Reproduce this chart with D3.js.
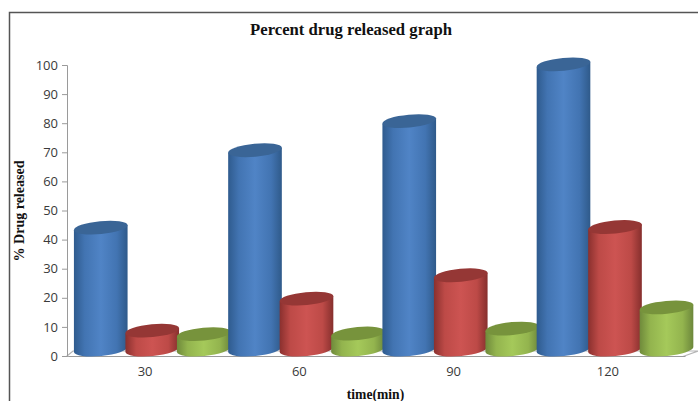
<!DOCTYPE html>
<html>
<head>
<meta charset="utf-8">
<script src="https://cdn.jsdelivr.net/npm/d3@7"></script>
<style>
  html, body { margin: 0; padding: 0; background: #fff; }
  svg { display: block; }
  .tick text { font-family: "Open Sans", sans-serif; font-size: 13px; fill: #3a3a3a; }
  .lbl { font-family: "Liberation Serif", serif; font-weight: bold; fill: #111; }
</style>
</head>
<body>
<div class="chart"></div>
<script>
const categories = ["30", "60", "90", "120"];
const seriesNames = ["blue", "red", "green"];
const blueValues = [42.4, 69, 79, 98.5];
const redValues = [7, 18, 26, 42.6];
const greenValues = [5.8, 6, 7.7, 15];
const yTicks = [0, 10, 20, 30, 40, 50, 60, 70, 80, 90, 100];

const w = 698, h = 401;
const sideColors = {
  blue: ["#2f5b8e", "#4274b2", "#5084c6", "#4274b2", "#2f5a8a"],
  red: ["#8a302e", "#bd4a47", "#cd5452", "#bd4a47", "#862f2d"],
  green: ["#6f8a3b", "#93b44e", "#a5c95a", "#93b44e", "#6c873b"]
};
const topColors = { blue: "#3a6596", red: "#953735", green: "#77933c" };

const xScale = d3.scaleBand().domain(categories).range([68, 685]);
const xInner = d3.scaleBand().domain(seriesNames).range([7, 161.5]);
const yScale = d3.scaleLinear().domain([0, 100]).range([356, 65]);

const body = d3.select(".chart").append("svg").attr("width", w).attr("height", h);

// gradients for the cylinder sides
const defs = body.append("defs");
seriesNames.forEach(function(s) {
  const g = defs.append("linearGradient").attr("id", "side-" + s);
  sideColors[s].forEach(function(c, i) {
    g.append("stop").attr("offset", [0, 0.2, 0.5, 0.8, 1][i]).attr("stop-color", c);
  });
});

// frame (top and left only, the picture is cropped)
body.append("path").attr("d", "M9.5,401V12.5H698").attr("fill", "none").attr("stroke", "#555").attr("stroke-width", 1.5);

// floor of the 3d plot
body.append("path")
  .attr("d", "M67,356L73,351H698L683,356.5H67Z")
  .attr("fill", "#fff").attr("stroke", "#b5b5b5").attr("stroke-width", 1.2);

const yAxis = d3.axisLeft(yScale).tickValues(yTicks).tickSize(5).tickPadding(4);
const xAxis = d3.axisBottom(xScale).tickSize(0).tickPadding(11);

const gy = body.append("g").attr("transform", "translate(67,0)").call(yAxis);
const gx = body.append("g").attr("transform", "translate(0,356)").call(xAxis);
gy.selectAll("line, path").attr("stroke", "#9a9a9a");
gx.select(".domain").attr("stroke", "#9a9a9a");

// cylinders
const rows = [];
categories.forEach(function(c, i) {
  rows.push({ cat: c, s: "blue", v: blueValues[i] });
  rows.push({ cat: c, s: "red", v: redValues[i] });
  rows.push({ cat: c, s: "green", v: greenValues[i] });
});

const tiltDeg = -5.5;
const tilt = tiltDeg * Math.PI / 180;
const ry = 6.5;

const bars = body.selectAll(".bar").data(rows).enter().append("g").attr("class", "bar");

bars.each(function(d) {
  const rx = xInner.bandwidth() / 2 + 1.2;
  const cx = xScale(d.cat) + xInner(d.s) + xInner.bandwidth() / 2;
  const yTop = yScale(d.v) - 5;
  const yBase = yScale(0) - 6.5;
  const dx = rx * Math.cos(tilt), dy = rx * Math.sin(tilt);
  const g = d3.select(this);
  g.append("path")
    .attr("d", "M" + (cx - dx) + "," + (yTop - dy) +
      "L" + (cx - dx) + "," + (yBase - dy) +
      "A" + rx + "," + ry + " " + tiltDeg + " 0 0 " + (cx + dx) + "," + (yBase + dy) +
      "L" + (cx + dx) + "," + (yTop + dy) + "Z")
    .attr("fill", "url(#side-" + d.s + ")");
  g.append("ellipse")
    .attr("rx", rx).attr("ry", ry)
    .attr("transform", "translate(" + cx + "," + yTop + ") rotate(" + tiltDeg + ")")
    .attr("fill", topColors[d.s]);
});

// titles
body.append("text").attr("class", "lbl").attr("x", 351).attr("y", 35)
  .attr("text-anchor", "middle").attr("font-size", 16.7).text("Percent drug released graph");
body.append("text").attr("class", "lbl").attr("x", 375.5).attr("y", 399)
  .attr("text-anchor", "middle").attr("font-size", 13.6).text("time(min)");
body.append("text").attr("class", "lbl")
  .attr("transform", "translate(24,211) rotate(-90)")
  .attr("text-anchor", "middle").attr("font-size", 14).text("% Drug released");
</script>
</body>
</html>
